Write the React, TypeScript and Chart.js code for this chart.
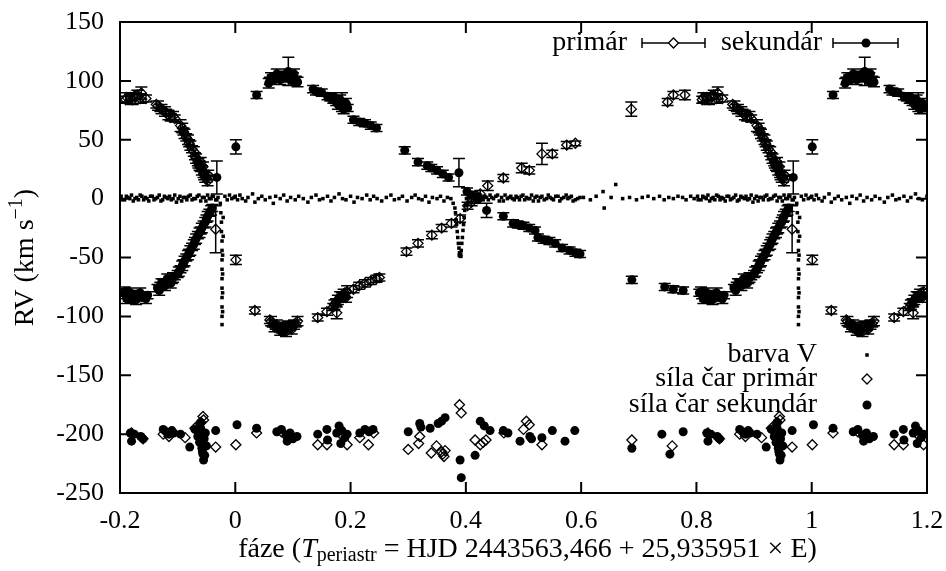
import { useEffect, useRef } from 'react';
import { Chart, registerables } from 'chart.js';

Chart.register(...registerables);

const FONT = '"Liberation Serif", "Times New Roman", serif';
const W = 946;
const H = 571;
const TXT = 28;
const SUB = 20;
const TICK = 26;

const xTicks = [-0.2, 0, 0.2, 0.4, 0.6, 0.8, 1, 1.2];
const xTickLabels = ['-0.2', '0', '0.2', '0.4', '0.6', '0.8', '1', '1.2'];
const yTicks = [-250, -200, -150, -100, -50, 0, 50, 100, 150];
const yTickLabels = ['-250', '-200', '-150', '-100', '-50', '0', '50', '100', '150'];

// Primary radial velocity (phase in 0..1)
const primPhase = [
  0.001, 0.034, 0.06, 0.065, 0.07, 0.075, 0.08, 0.085, 0.09, 0.095, 0.1, 0.105, 0.143, 0.159, 0.176, 0.17, 0.175, 0.18, 0.185, 0.19, 0.194, 0.205, 0.215, 0.225, 0.235, 0.245, 0.25, 0.297, 0.317, 0.341, 0.358, 0.375, 0.39, 0.403, 0.41, 0.418, 0.425, 0.438, 0.465, 0.497, 0.51, 0.532, 0.55, 0.575, 0.59, 0.687, 0.75, 0.76, 0.78, 0.81, 0.818, 0.825, 0.837, 0.845, 0.863, 0.87, 0.875, 0.88, 0.888, 0.895, 0.905, 0.91, 0.915, 0.92, 0.925, 0.93, 0.935, 0.94, 0.945, 0.95, 0.966,
  0.932, 0.936, 0.938, 0.942, 0.946, 0.948, 0.952, 0.953, 0.944, 0.94,
  0.908, 0.912, 0.918, 0.922, 0.928,
  0.866, 0.872, 0.878, 0.884, 0.892,
  0.812, 0.822, 0.83, 0.835,
  0.062, 0.068, 0.072, 0.078, 0.082, 0.088, 0.092, 0.098, 0.102, 0.108,
  0.172, 0.178, 0.182, 0.188, 0.192,
];
const primRV = [
  -52, -95, -103, -106, -108, -110, -111, -112, -110, -109, -108, -106, -101, -96, -97, -92, -88, -85, -83, -80, -79, -77, -74, -72, -70, -68, -67, -45, -38, -31, -25, -21, -17, -6, -3, 1, 4, 11, 17.5, 26, 24, 38, 38, 45.5, 47, 76, 82, 88, 88, 84, 86, 87, 89.7, 85, 80, 77, 75, 73, 69, 68, 62, 57, 52, 47, 42, 36, 31, 26, 21, 17, -26,
  34, 30, 28, 24, 20, 18, 15, 20, 27, 31,
  60, 55, 50, 45, 40,
  79, 76, 74, 71, 70,
  86, 84, 88, 85,
  -104, -109, -107, -112, -109, -113, -108, -111, -107, -104,
  -90, -86, -83, -81, -84,
];
const primErr = [
  4, 3, 3, 3, 3, 3, 3, 3, 3, 3, 3, 3, 3, 3, 5, 3, 3, 3, 3, 3, 5, 3, 3, 3, 3, 3, 3, 3, 3, 3, 3, 3, 3, 3, 3, 3, 3, 4, 3, 4, 3, 9, 3, 3, 2, 6, 3, 3, 4, 3, 3, 3, 5, 3, 3, 3, 3, 3, 3, 3, 5, 3, 3, 3, 3, 3, 3, 3, 3, 3, 20,
  4, 4, 4, 4, 4, 4, 4, 4, 4, 4,
  4, 4, 4, 4, 4,
  4, 4, 4, 4, 4,
  4, 4, 4, 4,
  4, 4, 4, 4, 4, 4, 4, 4, 4, 4,
  4, 4, 4, 4, 4,
];

// Secondary radial velocity
const secPhase = [
  0.001, 0.037, 0.06, 0.065, 0.07, 0.075, 0.08, 0.085, 0.092, 0.095, 0.1, 0.105, 0.135, 0.14, 0.15, 0.16, 0.165, 0.17, 0.175, 0.18, 0.185, 0.19, 0.195, 0.205, 0.215, 0.225, 0.235, 0.245, 0.294, 0.317, 0.333, 0.34, 0.35, 0.36, 0.37, 0.388, 0.402, 0.41, 0.42, 0.436, 0.465, 0.482, 0.49, 0.5, 0.51, 0.52, 0.525, 0.535, 0.545, 0.555, 0.567, 0.58, 0.59, 0.598, 0.688, 0.745, 0.76, 0.777, 0.805, 0.81, 0.815, 0.82, 0.825, 0.83, 0.84, 0.848, 0.865, 0.87, 0.875, 0.88, 0.885, 0.89, 0.895, 0.9, 0.905, 0.91, 0.915, 0.92, 0.925, 0.93, 0.935, 0.94, 0.945, 0.95, 0.955, 0.96, 0.968,
  0.058, 0.062, 0.068, 0.072, 0.078, 0.082, 0.088, 0.098, 0.102, 0.108,
  0.172, 0.178, 0.182, 0.188, 0.192,
  0.808, 0.812, 0.818, 0.822, 0.828, 0.835, 0.845,
  0.868, 0.872, 0.878, 0.882, 0.888, 0.892,
  0.902, 0.908, 0.912, 0.918, 0.922, 0.928, 0.932, 0.938, 0.942, 0.948, 0.952, 0.958,
];
const secRV = [
  44, 88, 100, 102, 104, 103, 105, 104, 108, 103, 104, 101, 93, 91, 90, 87, 86, 84, 82, 79, 82, 78, 77, 67, 65, 64, 62, 60, 41, 31, 28, 26, 24, 21, 18, 22, 6, 3, -1, -10, -15, -21, -22, -23, -25, -27, -33, -35, -36, -38, -42, -44, -46, -47, -69, -75, -77, -78, -80, -82, -84, -86, -83, -81, -84, -82, -76, -74, -72, -71, -70, -69, -66, -64, -60, -55, -50, -46, -41, -36, -31, -27, -22, -17, -12, -8, 18,
  98, 103, 101, 106, 101, 103, 106, 100, 106, 99,
  86, 80, 84, 76, 81,
  -79, -85, -80, -83, -86, -80, -85,
  -78, -72, -74, -68, -72, -67,
  -62, -57, -53, -48, -44, -39, -34, -29, -25, -20, -15, -10,
];
const secErr = [
  6, 3, 3, 3, 3, 3, 3, 3, 12, 3, 3, 3, 3, 3, 3, 3, 3, 3, 3, 3, 8, 3, 3, 3, 3, 3, 3, 3, 3, 3, 3, 3, 3, 3, 3, 12, 3, 3, 3, 6,
  3, 3, 3, 3, 3, 3, 3, 3, 3, 3,
  3, 3, 3, 3, 3, 3, 3, 3, 3, 3,
  3, 3, 3, 3, 3, 3, 3, 3, 3, 3,
  3, 3, 3, 3, 3, 3, 3, 3, 3, 3,
  3, 3, 3, 3, 3, 3, 14,
  4, 4, 4, 4, 4, 4, 4, 4, 4, 4,
  4, 4, 4, 4, 4,
  4, 4, 4, 4, 4, 4, 4,
  4, 4, 4, 4, 4, 4,
  4, 4, 4, 4, 4, 4, 4, 4, 4, 4, 4, 4,
];

// Colour index V (small dots)
const barvaPhase = [
  0.000, 0.004, 0.008, 0.012, 0.018, 0.022, 0.030, 0.034, 0.040, 0.046,
  0.052, 0.060, 0.066, 0.070, 0.078, 0.084, 0.090, 0.096, 0.104, 0.110,
  0.118, 0.126, 0.132, 0.140, 0.146, 0.152, 0.160, 0.166, 0.172, 0.180,
  0.186, 0.192, 0.200, 0.206, 0.212, 0.220, 0.228, 0.234, 0.240, 0.246,
  0.254, 0.262, 0.270, 0.276, 0.284, 0.290, 0.298, 0.306, 0.312, 0.318,
  0.324, 0.330, 0.336, 0.342, 0.350, 0.356, 0.362, 0.368, 0.374, 0.378,
  0.381, 0.383, 0.385, 0.387, 0.389, 0.390, 0.391, 0.393, 0.395, 0.397,
  0.399, 0.402, 0.404, 0.406, 0.408, 0.410, 0.414, 0.418, 0.422, 0.426,
  0.430, 0.436, 0.442, 0.448, 0.452, 0.458, 0.462, 0.468, 0.472, 0.478,
  0.484, 0.490, 0.496, 0.502, 0.508, 0.514, 0.520, 0.526, 0.532, 0.540,
  0.546, 0.552, 0.560, 0.566, 0.574, 0.580, 0.586, 0.594, 0.604, 0.616,
  0.626, 0.638, 0.640, 0.652, 0.660, 0.672, 0.684, 0.696, 0.706, 0.716,
  0.726, 0.736, 0.744, 0.752, 0.760, 0.768, 0.776, 0.782, 0.790, 0.796,
  0.802, 0.808, 0.814, 0.820, 0.826, 0.832, 0.838, 0.844, 0.850, 0.856,
  0.862, 0.868, 0.874, 0.880, 0.886, 0.892, 0.898, 0.904, 0.910, 0.916,
  0.922, 0.928, 0.934, 0.940, 0.946, 0.952, 0.958, 0.962, 0.966, 0.970,
  0.974, 0.975, 0.976, 0.976, 0.977, 0.977, 0.977, 0.977, 0.977, 0.977,
  0.977, 0.977, 0.977, 0.977, 0.978, 0.978, 0.978, 0.978, 0.979, 0.979,
  0.982, 0.986, 0.990, 0.994, 0.998,
  0.803, 0.811, 0.817, 0.823, 0.829, 0.835, 0.841, 0.847, 0.853, 0.859,
  0.865, 0.871, 0.877, 0.883, 0.889, 0.895, 0.901, 0.907, 0.913, 0.919,
  0.925, 0.931, 0.937, 0.943, 0.949, 0.955, 0.960, 0.968,
  0.433, 0.439, 0.445, 0.455, 0.465, 0.475, 0.481, 0.487, 0.493, 0.499,
  0.505, 0.511, 0.517, 0.523, 0.529, 0.536, 0.543, 0.549, 0.556, 0.563,
  0.570, 0.577, 0.583, 0.590, 0.598,
  0.382, 0.384, 0.386, 0.388, 0.392, 0.394, 0.396, 0.398, 0.3885, 0.3915,
  0.401, 0.401, 0.401,
];
const barvaV = [
  2, -1, 3, 0, -2, 1, 4, -3, 0, 2,
  -1, 1, -4, 2, 0, 3, -2, 1, -1, 2,
  0, -3, 1, 3, -1, 0, 2, -2, 1, 4,
  0, -1, 2, -3, 1, 0, 3, -1, 2, 0,
  -2, 1, 3, -1, 0, 2, -2, 1, 3, 0,
  -1, 2, -3, 1, 0, 2, -2, 1, 0, -4,
  -8, -18, -28, -38, -46, -49, -47, -38, -27, -16,
  -6, 6, 2, -3, 4, 1, 3, 0, 4, 2,
  -1, 1, 3, 0, 2, -2, 1, 3, 0, 2,
  -1, 1, 2, -1, 0, 3, 1, -2, 2, 0,
  1, -1, 2, 0, 3, 1, -2, 0, 1, -1,
  2, 6, -8, 1, 12, 0, 1, -1, 1, 2,
  0, 2, -1, 1, 0, 2, 1, -1, 2, 0,
  2, -1, 1, 3, 0, -1, 2, 1, -2, 2,
  0, 3, -1, 1, 2, 0, -3, 2, 1, -1,
  3, 0, 2, -2, 1, 3, 0, 2, -1, 1,
  -4, -12, -20, -28, -36, -44, -52, -60, -68, -76,
  -84, -92, -100, -107, -96, -80, -64, -48, -32, -16,
  2, -1, 3, 0, 1,
  -1, 2, 0, -2, 1, 3, -1, 0, 2, -1,
  1, -2, 2, 0, -1, 3, 0, -2, 1, 2,
  -1, 0, 3, 1, -2, 0, 2, -1,
  2, -1, 1, 3, -2, 1, 0, 2, -1, 3,
  1, 0, -2, 2, 1, -1, 3, 0, 2, -2,
  1, 0, 2, -1, 1,
  -12, -22, -33, -42, -44, -33, -22, -10, -48, -49,
  7, 0, -5,
];

// Line strength, primary (open diamonds)
const lsPrimPhase = [0.001, 0.037, 0.08, 0.095, 0.143, 0.159, 0.185, 0.194, 0.216, 0.231, 0.24, 0.3, 0.318, 0.32, 0.34, 0.349, 0.358, 0.36, 0.362, 0.364, 0.389, 0.392, 0.416, 0.425, 0.43, 0.435, 0.466, 0.5, 0.505, 0.51, 0.532, 0.688, 0.758, 0.82, 0.84, 0.875, 0.885, 0.913, 0.93, 0.94, 0.944, 0.945, 0.942, 0.966];
const lsPrimVal = [-209, -199, -198, -201, -209, -209, -201, -209, -203, -209, -199, -213, -208, -202, -216, -210, -215, -217, -219, -214, -175, -182, -205, -209, -207, -205, -199, -196, -189, -192, -209, -205, -210, -199, -204, -200, -202, -203, -195, -190, -185, -188, -200, -211];

// Line strength, secondary (filled circles)
const lsSecPhase = [0.003, 0.037, 0.072, 0.08, 0.088, 0.09, 0.095, 0.1, 0.107, 0.143, 0.159, 0.16, 0.176, 0.18, 0.183, 0.185, 0.19, 0.194, 0.216, 0.225, 0.232, 0.239, 0.3, 0.32, 0.322, 0.338, 0.352, 0.358, 0.364, 0.39, 0.392, 0.416, 0.425, 0.432, 0.442, 0.465, 0.473, 0.494, 0.511, 0.514, 0.532, 0.55, 0.572, 0.589, 0.688, 0.74, 0.754, 0.777, 0.818, 0.82, 0.825, 0.836, 0.84, 0.875, 0.88, 0.885, 0.89, 0.893, 0.905, 0.921, 0.93, 0.935, 0.938, 0.94, 0.94, 0.942, 0.944, 0.945, 0.946, 0.948, 0.95, 0.966, 0.943, 0.941, 0.947, 0.939];
const lsSecVal = [-192, -195, -198, -196, -201, -206, -199, -204, -202, -200, -196, -205, -199, -193, -208, -197, -203, -200, -199, -196, -198, -196, -198, -191, -194, -195, -191, -189, -186, -222, -237, -218, -189, -193, -197, -197, -199, -206, -202, -204, -203, -197, -206, -197, -212, -200, -217, -198, -199, -206, -200, -202, -204, -196, -198, -200, -197, -199, -200, -211, -196, -202, -207, -195, -190, -212, -217, -222, -204, -199, -210, -197, -215, -208, -218, -201];

type Pt = { x: number; y: number; e: number };

// place each phased measurement at phase, phase-1 and phase+1 within the plotted range
function fold(phase: number[], val: number[], err?: number[]): Pt[] {
  const pts: Pt[] = [];
  phase.forEach((p, i) => {
    for (const s of [-1, 0, 1]) {
      const x = p + s;
      if (x >= -0.2 && x <= 1.2) pts.push({ x, y: val[i], e: err ? err[i] : 0 });
    }
  });
  return pts;
}

const errorBarPlugin = {
  id: 'errorBars',
  beforeDatasetsDraw(chart: any) {
    const { ctx, chartArea: a } = chart;
    const xs = chart.scales.x;
    const ys = chart.scales.y;
    ctx.save();
    ctx.beginPath();
    ctx.rect(a.left, a.top, a.right - a.left, a.bottom - a.top);
    ctx.clip();
    ctx.strokeStyle = '#000';
    ctx.lineWidth = 1.5;
    ctx.beginPath();
    chart.data.datasets.forEach((ds: any) => {
      if (!ds.errorBars) return;
      ds.data.forEach((pt: Pt) => {
        if (!pt.e) return;
        const px = xs.getPixelForValue(pt.x);
        const y1 = ys.getPixelForValue(pt.y - pt.e);
        const y2 = ys.getPixelForValue(pt.y + pt.e);
        ctx.moveTo(px, y1);
        ctx.lineTo(px, y2);
        ctx.moveTo(px - 6, y1);
        ctx.lineTo(px + 6, y1);
        ctx.moveTo(px - 6, y2);
        ctx.lineTo(px + 6, y2);
      });
    });
    ctx.stroke();
    ctx.restore();
  },
};

type Run = { t: string; f: string; dy?: number };
function drawRuns(ctx: CanvasRenderingContext2D, runs: Run[], cx: number, cy: number) {
  let total = 0;
  runs.forEach((r) => {
    ctx.font = r.f;
    total += ctx.measureText(r.t).width;
  });
  let x = cx - total / 2;
  ctx.textAlign = 'left';
  ctx.textBaseline = 'middle';
  runs.forEach((r) => {
    ctx.font = r.f;
    ctx.fillText(r.t, x, cy + (r.dy || 0));
    x += ctx.measureText(r.t).width;
  });
}

const decorPlugin = {
  id: 'decor',
  afterDraw(chart: any) {
    const { ctx, chartArea: a } = chart;
    const xs = chart.scales.x;
    const ys = chart.scales.y;
    ctx.save();
    ctx.strokeStyle = '#000';
    ctx.fillStyle = '#000';
    // frame
    ctx.lineWidth = 2;
    ctx.strokeRect(a.left, a.top, a.right - a.left, a.bottom - a.top);
    // inward ticks, mirrored
    ctx.beginPath();
    const tl = 11;
    xTicks.forEach((v) => {
      const px = xs.getPixelForValue(v);
      ctx.moveTo(px, a.bottom);
      ctx.lineTo(px, a.bottom - tl);
      ctx.moveTo(px, a.top);
      ctx.lineTo(px, a.top + tl);
    });
    yTicks.forEach((v) => {
      const py = ys.getPixelForValue(v);
      ctx.moveTo(a.left, py);
      ctx.lineTo(a.left + tl, py);
      ctx.moveTo(a.right, py);
      ctx.lineTo(a.right - tl, py);
    });
    ctx.stroke();

    // axis titles
    const big = `${TXT}px ${FONT}`;
    const small = `${SUB}px ${FONT}`;
    drawRuns(ctx, [
      { t: 'fáze (', f: big },
      { t: 'T', f: `italic ${TXT}px ${FONT}` },
      { t: 'periastr', f: small, dy: 6 },
      { t: ' = HJD 2443563,466 + 25,935951 × E)', f: big },
    ], (a.left + a.right) / 2 + 4, 550);

    ctx.save();
    ctx.translate(26, (a.top + a.bottom) / 2);
    ctx.rotate(-Math.PI / 2);
    drawRuns(ctx, [
      { t: 'RV (km s', f: big },
      { t: '−1', f: small, dy: -9 },
      { t: ')', f: big },
    ], 0, 0);
    ctx.restore();

    // top key
    ctx.font = big;
    ctx.textAlign = 'right';
    ctx.textBaseline = 'middle';
    ctx.lineWidth = 1.5;
    const ky = 43;
    const errSample = (x1: number, x2: number) => {
      ctx.beginPath();
      ctx.moveTo(x1, ky);
      ctx.lineTo(x2, ky);
      ctx.moveTo(x1, ky - 5);
      ctx.lineTo(x1, ky + 5);
      ctx.moveTo(x2, ky - 5);
      ctx.lineTo(x2, ky + 5);
      ctx.stroke();
    };
    const diamond = (x: number, y: number, r: number, fill: boolean) => {
      ctx.beginPath();
      ctx.moveTo(x - r, y);
      ctx.lineTo(x, y - r);
      ctx.lineTo(x + r, y);
      ctx.lineTo(x, y + r);
      ctx.closePath();
      if (fill) {
        ctx.fillStyle = '#fff';
        ctx.fill();
        ctx.fillStyle = '#000';
      }
      ctx.lineWidth = 1.3;
      ctx.stroke();
      ctx.lineWidth = 1.5;
    };
    ctx.fillText('primár', 627, ky);
    errSample(642, 705);
    diamond(673.5, ky, 5, true);
    ctx.fillText('sekundár', 822, ky);
    errSample(833, 898);
    ctx.beginPath();
    ctx.arc(866, ky, 4.5, 0, Math.PI * 2);
    ctx.fill();

    // bottom key
    const kx = 817;
    const sx = 867;
    ctx.fillText('barva V', kx, 355);
    ctx.fillRect(sx - 1.75, 355 - 1.75, 3.5, 3.5);
    ctx.fillText('síla čar primár', kx, 379);
    diamond(sx, 379, 5, false);
    ctx.fillText('síla čar sekundár', kx, 405);
    ctx.beginPath();
    ctx.arc(sx, 405, 4.5, 0, Math.PI * 2);
    ctx.fill();
    ctx.restore();
  },
};

export default function App() {
  const ref = useRef<HTMLCanvasElement>(null);
  useEffect(() => {
    const canvas = ref.current;
    if (!canvas) return;
    const openDiamond = {
      pointStyle: 'rectRot',
      pointRadius: 5,
      borderColor: '#000',
      borderWidth: 1.3,
      backgroundColor: 'rgba(0,0,0,0)',
    };
    const filledCircle = {
      pointStyle: 'circle',
      pointRadius: 4.5,
      borderColor: '#000',
      borderWidth: 0,
      backgroundColor: '#000',
    };
    const chart = new Chart(canvas, {
      type: 'scatter',
      data: {
        datasets: [
          { label: 'primár', data: fold(primPhase, primRV, primErr), errorBars: true, ...openDiamond } as any,
          { label: 'sekundár', data: fold(secPhase, secRV, secErr), errorBars: true, ...filledCircle } as any,
          { label: 'barva V', data: fold(barvaPhase, barvaV), pointStyle: 'rect', pointRadius: 2.5, borderWidth: 0, backgroundColor: '#000', borderColor: '#000' } as any,
          { label: 'síla čar primár', data: fold(lsPrimPhase, lsPrimVal), ...openDiamond } as any,
          { label: 'síla čar sekundár', data: fold(lsSecPhase, lsSecVal), ...filledCircle } as any,
        ],
      },
      options: {
        responsive: false,
        animation: false,
        devicePixelRatio: 1,
        events: [],
        layout: { padding: { top: 22, right: 19, left: 0, bottom: 0 } },
        plugins: {
          legend: { display: false },
          tooltip: { enabled: false },
          title: { display: false },
        },
        scales: {
          x: {
            type: 'linear',
            min: -0.2,
            max: 1.2,
            grid: { display: false, drawTicks: false },
            border: { display: false },
            afterBuildTicks: (s: any) => {
              s.ticks = xTicks.map((v) => ({ value: v }));
            },
            afterFit: (s: any) => {
              s.height = 78;
              s.paddingLeft = 0;
              s.paddingRight = 0;
            },
            ticks: {
              color: '#000',
              padding: 13,
              maxRotation: 0,
              autoSkip: false,
              font: { family: FONT, size: TICK },
              callback: (_v: any, i: number) => xTickLabels[i],
            },
          },
          y: {
            type: 'linear',
            min: -250,
            max: 150,
            grid: { display: false, drawTicks: false },
            border: { display: false },
            afterBuildTicks: (s: any) => {
              s.ticks = yTicks.map((v) => ({ value: v }));
            },
            afterFit: (s: any) => {
              s.width = 120;
              s.paddingTop = 0;
              s.paddingBottom = 0;
            },
            ticks: {
              color: '#000',
              padding: 16,
              autoSkip: false,
              font: { family: FONT, size: TICK },
              callback: (_v: any, i: number) => yTickLabels[i],
            },
          },
        },
      } as any,
      plugins: [errorBarPlugin, decorPlugin],
    });
    return () => chart.destroy();
  }, []);
  return (
    <div style={{ position: 'fixed', left: 0, top: 0, width: W, height: H, background: '#fff' }}>
      <canvas ref={ref} width={W} height={H} style={{ display: 'block' }} />
    </div>
  );
}
